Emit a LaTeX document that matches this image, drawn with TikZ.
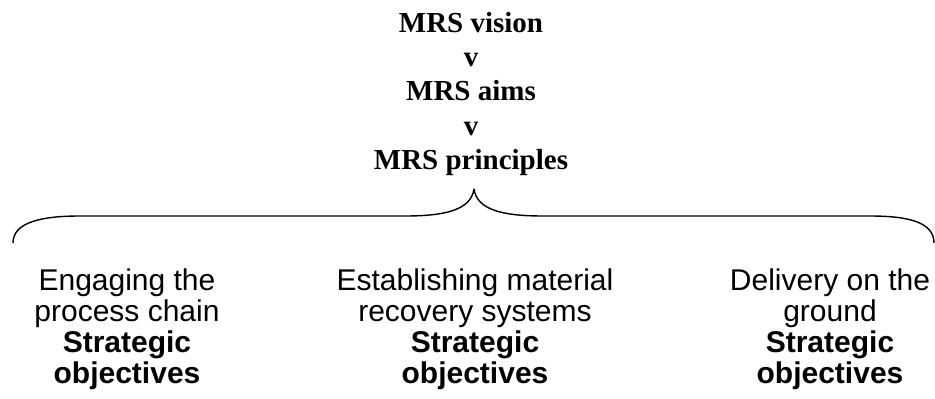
\documentclass[tikz,border=0pt]{standalone}
\usepackage{fontspec}
\setmainfont{Liberation Serif}
\newfontfamily\arialfont{Liberation Sans}
\begin{document}
\begin{tikzpicture}[x=1pt,y=-1pt,
  toptext/.style={inner sep=0pt, align=center, anchor=base,
    font=\fontsize{29}{34.3}\selectfont\bfseries},
  bottext/.style={inner sep=0pt, align=center, anchor=base,
    font=\arialfont\fontsize{30}{31}\selectfont},
  bracepath/.style={line width=1.4pt, line join=round}]
\useasboundingbox (0,0) rectangle (935,399);
\node[toptext] (top) at (471,169.5) {MRS vision\\v\\MRS aims\\v\\MRS principles};
\coordinate (tip) at (474,189);
\coordinate (lend) at (13,243);
\coordinate (rend) at (934,243);
\draw[bracepath] (lend) .. controls (13,222) and (42,216) .. (80,216)
  -- (405,216) .. controls (445,216) and (471,210) .. (tip)
  .. controls (477,210) and (503,216) .. (543,216)
  -- (870,216) .. controls (908,216) and (934,222) .. (rend);
\node[bottext] (c1) at (127,383) {Engaging the\\process chain\\\textbf{Strategic}\\\textbf{objectives}};
\node[bottext] (c2) at (475,383) {Establishing material\\recovery systems\\\textbf{Strategic}\\\textbf{objectives}};
\node[bottext] (c3) at (830,383) {Delivery on the\\ground\\\textbf{Strategic}\\\textbf{objectives}};
\end{tikzpicture}
\end{document}
